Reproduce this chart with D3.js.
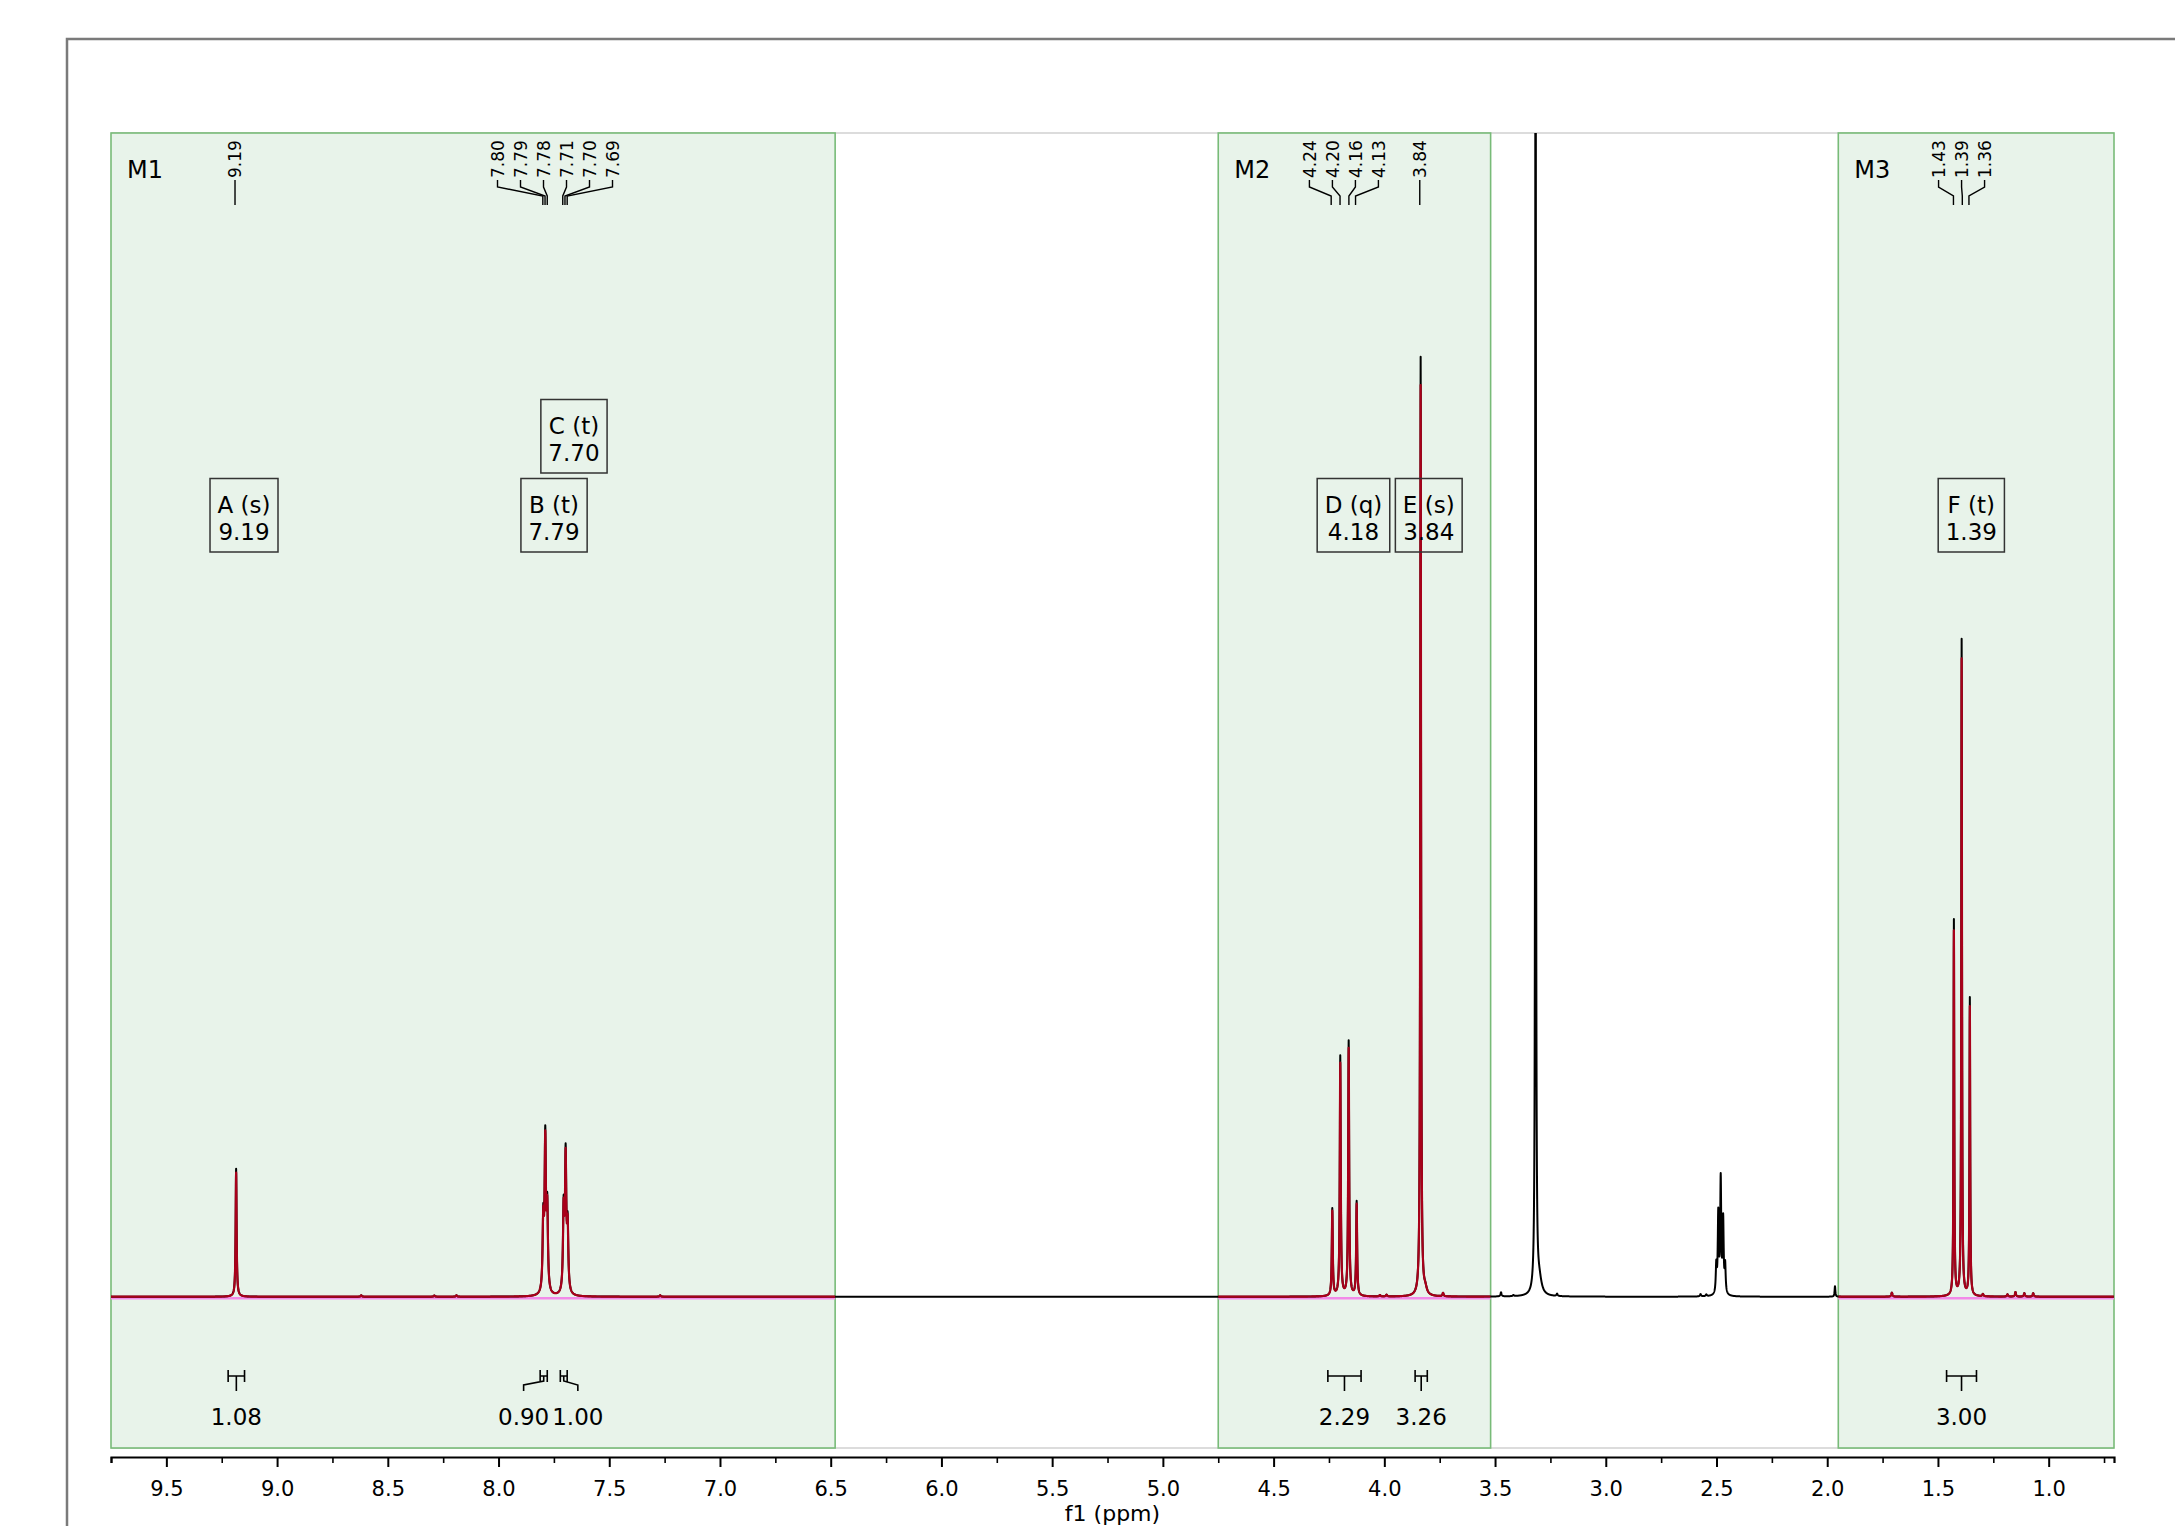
<!DOCTYPE html>
<html>
<head>
<meta charset="utf-8">
<script src="https://cdnjs.cloudflare.com/ajax/libs/d3/7.8.5/d3.min.js"></script>
<style>
  body { margin: 0; background: #fff; }
  svg text { font-family: "DejaVu Sans", Verdana, sans-serif; fill: #000; }
</style>
</head>
<body>
<svg width="2175" height="1526"></svg>
<script>
// peak list: shift (ppm), height (fraction of plot), half width (ppm)
var peakPpm = [9.185,
  7.798, 7.789, 7.780, 7.706, 7.697, 7.688,
  4.235, 4.199, 4.161, 4.125,
  3.836, 3.815,
  3.317, 3.300,
  2.501, 2.492, 2.481, 2.470, 2.461,
  1.428, 1.393, 1.356,
  8.62, 8.29, 8.19, 7.27, 4.02, 3.99, 3.735, 3.473, 3.417, 3.22,
  2.572, 2.546, 1.965, 1.708, 1.297, 1.186, 1.150, 1.110, 1.070];
var peakHeight = [0.110,
  0.060, 0.130, 0.070, 0.070, 0.115, 0.055,
  0.075, 0.206, 0.219, 0.081,
  0.807, 0.005,
  1.600, 0.012,
  0.024, 0.068, 0.098, 0.063, 0.024,
  0.323, 0.564, 0.256,
  0.0012, 0.001, 0.0012, 0.0012, 0.0012, 0.0015, 0.003, 0.0035, 0.001, 0.002,
  0.002, 0.0015, 0.009, 0.0035, 0.002, 0.002, 0.004, 0.003, 0.003];
var peakHwhm = [0.0025,
  0.0035, 0.0035, 0.0035, 0.0035, 0.0035, 0.0035,
  0.0025, 0.0025, 0.0025, 0.0025,
  0.0021, 0.008,
  0.0016, 0.012,
  0.0027, 0.0027, 0.0027, 0.0027, 0.0027,
  0.0018, 0.0018, 0.0018,
  0.003, 0.003, 0.003, 0.003, 0.003, 0.003, 0.003, 0.003, 0.003, 0.003,
  0.003, 0.003, 0.002, 0.003, 0.003, 0.003, 0.003, 0.003, 0.003];

// multiplet ranges
var rangeNames = ["M1", "M2", "M3"];
var rangeFrom = [9.75, 4.75, 1.95];
var rangeTo = [6.48, 3.52, 0.705];

// multiplet annotations
var multNames = ["A", "B", "C", "D", "E", "F"];
var multTypes = ["s", "t", "t", "q", "s", "t"];
var multShifts = ["9.19", "7.79", "7.70", "4.18", "3.84", "1.39"];

// peak picking labels, grouped
var pickGroups = [
  ["9.19"],
  ["7.80", "7.79", "7.78", "7.71", "7.70", "7.69"],
  ["4.24", "4.20", "4.16", "4.13"],
  ["3.84"],
  ["1.43", "1.39", "1.36"]
];

// integrals
var integralValues = ["1.08", "0.90", "1.00", "2.29", "3.26", "3.00"];
var integralFrom = [9.221, 7.812, 7.721, 4.255, 3.861, 1.461];
var integralTo = [9.147, 7.780, 7.690, 4.105, 3.806, 1.326];

// axis ticks
var majorTicks = [9.5, 9.0, 8.5, 8.0, 7.5, 7.0, 6.5, 6.0, 5.5, 5.0, 4.5, 4.0, 3.5, 3.0, 2.5, 2.0, 1.5, 1.0];
var minorTicks = [9.75, 9.25, 8.75, 8.25, 7.75, 7.25, 6.75, 6.25, 5.75, 5.25, 4.75, 4.25, 3.75, 3.25, 2.75, 2.25, 1.75, 1.25, 0.75];

var svg = d3.select("svg"),
    width = +svg.attr("width"),
    height = +svg.attr("height");

var plotLeft = 111, plotRight = 2114, plotTop = 133, plotBottom = 1448, axisY = 1457;

var x = d3.scaleLinear().domain([9.75, 0.705]).range([plotLeft, plotRight]);
var y = d3.scaleLinear().domain([-0.13, 1]).range([plotBottom, plotTop]);

function intensity(p) {
  var s = 0;
  for (var i = 0; i < peakPpm.length; i++) {
    var u = (p - peakPpm[i]) / peakHwhm[i];
    s += peakHeight[i] / (1 + u * u);
  }
  return s;
}

svg.append("defs").append("clipPath")
    .attr("id", "plotClip")
  .append("rect")
    .attr("x", plotLeft)
    .attr("y", plotTop)
    .attr("width", plotRight - plotLeft)
    .attr("height", plotBottom - plotTop);

// outer frame
svg.append("path")
    .attr("d", "M67," + height + " V39 H" + width)
    .attr("fill", "none")
    .attr("stroke", "#7a7a7a")
    .attr("stroke-width", 2.5);

// plot border top / bottom
svg.append("g")
    .selectAll("line")
    .data([plotTop, plotBottom])
    .enter().append("line")
    .attr("x1", plotLeft).attr("x2", plotRight)
    .attr("y1", function(d) { return d; })
    .attr("y2", function(d) { return d; })
    .attr("stroke", "#dcdcdc")
    .attr("stroke-width", 2);

// multiplet regions
var regions = svg.append("g").selectAll("g.region")
    .data(rangeNames)
    .enter().append("g")
    .classed("region", true);

regions.append("rect")
    .attr("x", function(d, i) { return x(rangeFrom[i]); })
    .attr("y", plotTop)
    .attr("width", function(d, i) { return x(rangeTo[i]) - x(rangeFrom[i]); })
    .attr("height", plotBottom - plotTop)
    .attr("fill", "#e8f3ea")
    .attr("stroke", "#78bb78")
    .attr("stroke-width", 1.6);

regions.append("line")
    .attr("x1", function(d, i) { return x(rangeFrom[i]); })
    .attr("x2", function(d, i) { return x(rangeTo[i]); })
    .attr("y1", y(0) + 1.5)
    .attr("y2", y(0) + 1.5)
    .attr("stroke", "#f28ae8")
    .attr("stroke-width", 2.5);

regions.append("text")
    .attr("x", function(d, i) { return x(rangeFrom[i]) + 16; })
    .attr("y", 178)
    .style("font-size", "24px")
    .text(function(d) { return d; });

// spectrum
var samplePpm = d3.range(9.75, 0.705, -0.0005).concat(peakPpm).sort(d3.descending);
var spectrum = samplePpm.map(function(p) { return [p, intensity(p)]; });

var line = d3.line()
    .x(function(d) { return x(d[0]); })
    .y(function(d) { return y(d[1]); });

var traceGroup = svg.append("g").attr("clip-path", "url(#plotClip)");

traceGroup.append("path")
    .attr("d", line(spectrum))
    .attr("fill", "none")
    .attr("stroke", "#000")
    .attr("stroke-width", 2)
    .attr("stroke-linejoin", "round");

// multiplet fit inside each region
rangeNames.forEach(function(name, i) {
  var part = spectrum
    .filter(function(d) { return d[0] <= rangeFrom[i] && d[0] >= rangeTo[i]; })
    .map(function(d) { return [d[0], d[1] * 0.97]; });
  traceGroup.append("path")
      .attr("d", line(part))
      .attr("fill", "none")
      .attr("stroke", "#a8001a")
      .attr("stroke-width", 2.2)
      .attr("stroke-linejoin", "round");
});

// peak picking labels
var pickLayer = svg.append("g").classed("picks", true);
pickGroups.forEach(function(group) {
  var px = group.map(function(v) { return x(+v); });
  var center = d3.mean(px);
  group.forEach(function(v, j) {
    var lx = center + (j - (group.length - 1) / 2) * 23;
    pickLayer.append("path")
        .attr("d", "M" + lx + ",180 V187 L" + px[j] + ",196 V205")
        .attr("fill", "none")
        .attr("stroke", "#000")
        .attr("stroke-width", 1.4);
    pickLayer.append("text")
        .attr("transform", "translate(" + lx + ",178)rotate(-90)")
        .attr("dy", "0.37em")
        .style("font-size", "17px")
        .text(v);
  });
});

// multiplet boxes, stacked when they collide
var boxLayer = svg.append("g").classed("boxes", true);
var placed = [];
multNames.forEach(function(name, i) {
  var g = boxLayer.append("g");
  var t1 = g.append("text").attr("text-anchor", "middle").style("font-size", "23px")
      .text(name + " (" + multTypes[i] + ")");
  var t2 = g.append("text").attr("text-anchor", "middle").style("font-size", "23px")
      .text(multShifts[i]);
  var w = Math.max(t1.node().getComputedTextLength(), t2.node().getComputedTextLength()) + 15;
  var cx = x(+multShifts[i]) + 9;
  var row = 0;
  while (placed.some(function(b) {
    return b.row === row && cx - w / 2 < b.x1 + 4 && cx + w / 2 > b.x0 - 4;
  })) { row++; }
  placed.push({row: row, x0: cx - w / 2, x1: cx + w / 2});
  var top = 478.5 - row * 79;
  g.insert("rect", "text")
      .attr("x", cx - w / 2)
      .attr("y", top)
      .attr("width", w)
      .attr("height", 73.5)
      .attr("fill", "none")
      .attr("stroke", "#333")
      .attr("stroke-width", 1.5);
  t1.attr("x", cx).attr("y", top + 34.5);
  t2.attr("x", cx).attr("y", top + 61.5);
});

// integrals
var intLayer = svg.append("g").classed("integrals", true);
var intLabels = integralValues.map(function(v, i) {
  var t = intLayer.append("text")
      .attr("text-anchor", "middle")
      .attr("y", 1425)
      .style("font-size", "23px")
      .text(v);
  return {
    text: t,
    mid: (x(integralFrom[i]) + x(integralTo[i])) / 2,
    w: t.node().getComputedTextLength()
  };
});
intLabels.forEach(function(d) { d.lx = d.mid; });
for (var k = 0; k < intLabels.length - 1; k++) {
  var a = intLabels[k], b = intLabels[k + 1];
  var need = (a.w + b.w) / 2 + 3;
  if (b.lx - a.lx < need) {
    var m = (a.lx + b.lx) / 2 - 3;
    a.lx = m - need / 2;
    b.lx = m + need / 2;
  }
}
intLabels.forEach(function(d, i) {
  var x0 = x(integralFrom[i]), x1 = x(integralTo[i]);
  d.text.attr("x", d.lx);
  intLayer.append("path")
      .attr("d", "M" + x0 + ",1376 H" + x1 +
                 " M" + x0 + ",1370 V1382 M" + x1 + ",1370 V1382" +
                 " M" + d.mid + ",1376 V1381 L" + d.lx + ",1385 V1391")
      .attr("fill", "none")
      .attr("stroke", "#000")
      .attr("stroke-width", 1.6);
});

// x axis
var axis = svg.append("g")
    .attr("transform", "translate(0," + axisY + ")")
    .call(d3.axisBottom(x)
      .tickValues(majorTicks)
      .tickFormat(d3.format(".1f"))
      .tickSize(10)
      .tickSizeOuter(6)
      .tickPadding(14));
axis.select(".domain").attr("stroke-width", 2.2);
axis.selectAll(".tick line").attr("stroke-width", 2);
axis.selectAll(".tick text")
    .style("font-size", "21px")
    .style("font-family", "DejaVu Sans, Verdana, sans-serif");

var minor = svg.append("g")
    .attr("transform", "translate(0," + axisY + ")")
    .call(d3.axisBottom(x)
      .tickValues(minorTicks)
      .tickFormat("")
      .tickSize(6)
      .tickSizeOuter(0));
minor.select(".domain").remove();
minor.selectAll(".tick line").attr("stroke-width", 1.6);

svg.append("text")
    .attr("x", (plotLeft + plotRight) / 2)
    .attr("y", 1521)
    .attr("text-anchor", "middle")
    .style("font-size", "22px")
    .text("f1 (ppm)");
</script>
</body>
</html>
